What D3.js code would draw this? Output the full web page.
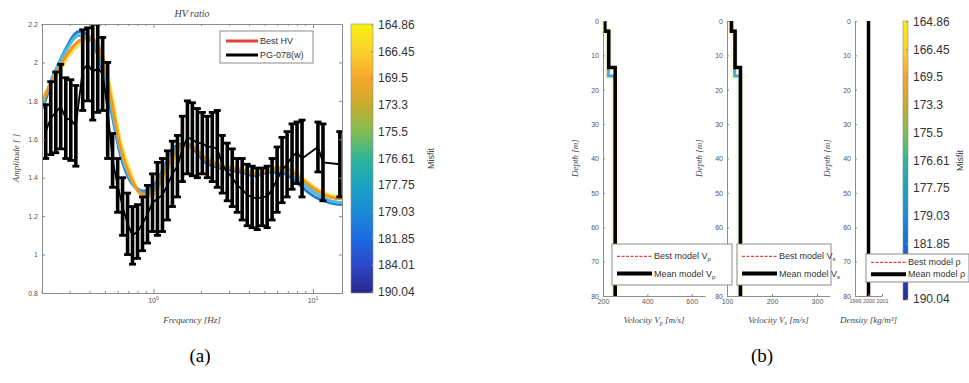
<!DOCTYPE html>
<html>
<head>
<meta charset="utf-8">
<script src="https://cdn.jsdelivr.net/npm/d3@7"></script>
<style>
  body { margin: 0; background: #fff; }
  text { font-family: "Liberation Sans", Arial, sans-serif; }
  text.serif { font-family: "Liberation Serif", "Times New Roman", serif; font-style: italic; }
  text.caption { font-family: "Liberation Serif", "Times New Roman", serif; font-style: normal; }
</style>
</head>
<body>
<svg id="chart" width="969" height="383"></svg>
<script>
// ---- (a) HV ratio data ----
const curveFreq = [0.202, 0.237, 0.282, 0.34, 0.40, 0.466, 0.54, 0.62, 0.72, 0.866, 1.03, 1.19, 1.37, 1.58, 1.83, 2.11, 2.62, 3.5, 4.34, 5.38, 6.67, 8.27, 10.3, 12.8, 15.2];
const hvBest   = [1.80, 1.92, 2.03, 2.11, 2.13, 2.04, 1.81, 1.56, 1.40, 1.31, 1.34, 1.44, 1.53, 1.57, 1.55, 1.50, 1.46, 1.44, 1.42, 1.44, 1.45, 1.40, 1.34, 1.30, 1.29];
const hvYellow = [1.82, 1.91, 2.01, 2.09, 2.12, 2.07, 1.86, 1.60, 1.43, 1.30, 1.32, 1.42, 1.51, 1.56, 1.55, 1.51, 1.47, 1.45, 1.43, 1.45, 1.46, 1.41, 1.35, 1.31, 1.30];
const hvOrange = [1.80, 1.92, 2.03, 2.11, 2.13, 2.05, 1.82, 1.56, 1.40, 1.31, 1.34, 1.44, 1.53, 1.57, 1.55, 1.50, 1.46, 1.44, 1.42, 1.44, 1.45, 1.40, 1.34, 1.30, 1.29];
const hvCyan   = [1.78, 1.94, 2.06, 2.14, 2.12, 2.01, 1.78, 1.54, 1.39, 1.32, 1.36, 1.46, 1.55, 1.58, 1.55, 1.49, 1.46, 1.44, 1.42, 1.44, 1.43, 1.38, 1.32, 1.28, 1.27];
const hvBlue   = [1.76, 1.93, 2.07, 2.16, 2.13, 1.99, 1.76, 1.52, 1.38, 1.33, 1.37, 1.47, 1.56, 1.58, 1.54, 1.48, 1.45, 1.43, 1.41, 1.43, 1.42, 1.36, 1.30, 1.27, 1.26];

// measured curve PG-078(w): frequency, mean, std
const dataFreq = [0.211, 0.227, 0.244, 0.262, 0.282, 0.303, 0.326, 0.360, 0.387, 0.416, 0.447, 0.480, 0.516, 0.554, 0.596, 0.640, 0.688, 0.739, 0.794, 0.853, 0.917, 0.986, 1.059, 1.138, 1.223, 1.314, 1.413, 1.518, 1.632, 1.753, 1.884, 2.024, 2.175, 2.337, 2.512, 2.699, 2.901, 3.117, 3.350, 3.599, 3.868, 4.156, 4.467, 4.799, 5.157, 5.541, 5.957, 6.397, 6.879, 7.391, 7.943, 8.536, 10.74, 11.55, 14.74];
const dataMean = [1.64, 1.71, 1.74, 1.77, 1.71, 1.70, 1.67, 1.96, 1.99, 1.95, 1.97, 1.94, 1.75, 1.49, 1.36, 1.25, 1.16, 1.10, 1.12, 1.16, 1.21, 1.27, 1.29, 1.31, 1.36, 1.42, 1.46, 1.55, 1.61, 1.60, 1.58, 1.58, 1.56, 1.56, 1.55, 1.47, 1.43, 1.40, 1.36, 1.34, 1.31, 1.30, 1.29, 1.30, 1.30, 1.34, 1.39, 1.44, 1.47, 1.51, 1.53, 1.50, 1.56, 1.48, 1.47];
const dataErr  = [0.14, 0.19, 0.21, 0.22, 0.21, 0.21, 0.21, 0.21, 0.19, 0.25, 0.23, 0.19, 0.25, 0.14, 0.14, 0.15, 0.16, 0.15, 0.14, 0.14, 0.15, 0.15, 0.19, 0.19, 0.18, 0.17, 0.16, 0.17, 0.19, 0.19, 0.18, 0.16, 0.16, 0.18, 0.20, 0.15, 0.15, 0.15, 0.14, 0.16, 0.16, 0.16, 0.16, 0.15, 0.16, 0.16, 0.17, 0.17, 0.17, 0.17, 0.16, 0.20, 0.13, 0.20, 0.17];

const ampTicks = [0.8, 1, 1.2, 1.4, 1.6, 1.8, 2, 2.2];
const misfitLabels = ["164.86", "166.45", "169.5", "173.3", "175.5", "176.61", "177.75", "179.03", "181.85", "184.01", "190.04"];

// ---- (b) velocity / density profiles ----
const layerDepth = [0, 3, 13.5, 80];
const vpMean  = [208, 226, 255];
const vpBlue  = [208, 224, 254];
const vsMean  = [110, 118, 130];
const vsBlue  = [109, 117, 129];
const rhoMean = [2000, 2000, 2000];
const blueDepth = [0, 3, 16, 80];
const depthTicks = [0, 10, 20, 30, 40, 50, 60, 70, 80];
const vpTicks = [200, 400, 600];
const vsTicks = [100, 200, 300];
const rhoTicks = [1999, 2000, 2001];

const cmapStops = [
  [0, "#f7f20f"], [0.1, "#fbd22c"], [0.2, "#f7a62c"], [0.3, "#c9ab2c"], [0.4, "#82bd52"],
  [0.5, "#2fb59a"], [0.6, "#18a3c0"], [0.7, "#1b8ad6"], [0.8, "#1c6ae0"], [0.9, "#2c46c6"], [1, "#28288a"]
];

const svg = d3.select("#chart");
const gray = "#8c8c8c", txt = "#555";
const defs = svg.append("defs");

const grad = defs.append("linearGradient").attr("id", "cmap")
  .attr("x1", 0).attr("y1", 0).attr("x2", 0).attr("y2", 1);
cmapStops.forEach(s => grad.append("stop").attr("offset", s[0]).attr("stop-color", s[1]));

// ================= (a) =================
const x = d3.scaleLog().domain([0.2, 15.2]).range([42, 342]);
const y = d3.scaleLinear().domain([0.8, 2.2]).range([293, 24]);

defs.append("clipPath").attr("id", "clipA").append("rect")
  .attr("x", 42).attr("y", 24).attr("width", 300).attr("height", 269);

const gA = svg.append("g");
const plotA = gA.append("g").attr("clip-path", "url(#clipA)");

const hvLine = vals => d3.line().curve(d3.curveMonotoneX)
  .x((d, i) => x(curveFreq[i])).y(d => y(d))(vals);

plotA.append("path").attr("d", hvLine(hvBest)).attr("fill", "none").attr("stroke", "#e8413c").attr("stroke-width", 3);
[[hvYellow, "#f3e35a"], [hvBlue, "#2a78d2"], [hvCyan, "#49bfe0"], [hvOrange, "#f39a1e"]].forEach(c => {
  plotA.append("path").attr("d", hvLine(c[0])).attr("fill", "none")
    .attr("stroke", c[1]).attr("stroke-width", 3);
});

// error bars
const pts = dataFreq.map((f, i) => ({ f, m: dataMean[i], e: dataErr[i] }));
plotA.append("path")
  .attr("d", d3.line().x(d => x(d.f)).y(d => y(d.m))(pts))
  .attr("fill", "none").attr("stroke", "#000").attr("stroke-width", 1.8);
const eb = plotA.append("g").attr("stroke", "#000");
eb.selectAll("line.bar").data(pts).join("line").attr("class", "bar")
  .attr("x1", d => x(d.f)).attr("x2", d => x(d.f))
  .attr("y1", d => y(d.m + d.e)).attr("y2", d => y(d.m - d.e))
  .attr("stroke-width", 3.6);
eb.selectAll("line.capT").data(pts).join("line").attr("class", "capT")
  .attr("x1", d => x(d.f) - 3.5).attr("x2", d => x(d.f) + 3.5)
  .attr("y1", d => y(d.m + d.e)).attr("y2", d => y(d.m + d.e)).attr("stroke-width", 2.8);
eb.selectAll("line.capB").data(pts).join("line").attr("class", "capB")
  .attr("x1", d => x(d.f) - 3.5).attr("x2", d => x(d.f) + 3.5)
  .attr("y1", d => y(d.m - d.e)).attr("y2", d => y(d.m - d.e)).attr("stroke-width", 2.8);

// axes of (a)
const minorX = [0.2, 0.3, 0.4, 0.5, 0.6, 0.7, 0.8, 0.9, 2, 3, 4, 5, 6, 7, 8, 9];
const styleAxis = g => {
  g.selectAll(".domain").attr("stroke", gray);
  g.selectAll(".tick line").attr("stroke", gray);
  g.selectAll(".tick text").attr("fill", txt).attr("font-size", 7);
};
gA.append("g").attr("transform", "translate(42,0)")
  .call(d3.axisLeft(y).tickValues(ampTicks).tickFormat(d3.format("~g")).tickSizeInner(-3).tickSizeOuter(0).tickPadding(4))
  .call(styleAxis);
gA.append("g").attr("transform", "translate(342,0)")
  .call(d3.axisRight(y).tickValues(ampTicks).tickFormat("").tickSizeInner(-3).tickSizeOuter(0))
  .call(styleAxis);
[[293, d3.axisBottom], [24, d3.axisTop]].forEach(([ty, ax], k) => {
  const g = gA.append("g").attr("transform", `translate(0,${ty})`);
  g.call(ax(x).tickValues([1, 10]).tickFormat("").tickSizeInner(-4).tickSizeOuter(0)).call(styleAxis);
  g.selectAll(".minor").data(minorX).join("line").attr("class", "minor")
    .attr("x1", d => x(d)).attr("x2", d => x(d))
    .attr("y1", 0).attr("y2", k === 0 ? -2 : 2).attr("stroke", gray);
});
gA.selectAll(".xlab").data([1, 10]).join("text").attr("class", "xlab")
  .attr("x", d => x(d)).attr("y", 303).attr("text-anchor", "middle")
  .attr("fill", txt).attr("font-size", 7)
  .each(function (d) {
    const t = d3.select(this);
    t.append("tspan").text("10");
    t.append("tspan").attr("dy", -3).attr("font-size", 5).text(Math.log10(d));
  });

gA.append("text").attr("class", "serif").attr("x", 192).attr("y", 17)
  .attr("text-anchor", "middle").attr("font-size", 10).attr("fill", "#444").text("HV ratio");
gA.append("text").attr("class", "serif").attr("x", 192).attr("y", 323)
  .attr("text-anchor", "middle").attr("font-size", 9).attr("fill", "#444").text("Frequency [Hz]");
gA.append("text").attr("class", "serif").attr("transform", "translate(19,158) rotate(-90)")
  .attr("text-anchor", "middle").attr("font-size", 9).attr("fill", "#444").text("Amplitude [ ]");

// legend (a)
const legA = gA.append("g").attr("transform", "translate(220,31)");
legA.append("rect").attr("width", 93).attr("height", 32).attr("fill", "#fff").attr("stroke", gray);
[["Best HV", "#e8413c"], ["PG-078(w)", "#000"]].forEach((d, i) => {
  legA.append("line").attr("x1", 6).attr("x2", 38).attr("y1", 10 + i * 14).attr("y2", 10 + i * 14)
    .attr("stroke", d[1]).attr("stroke-width", 3);
  legA.append("text").attr("x", 40).attr("y", 13 + i * 14).attr("font-size", 9).attr("fill", "#333").text(d[0]);
});

// colorbar helper
function colorbar(x0, w, y0, y1, labelX, misfitX) {
  const g = svg.append("g");
  g.append("rect").attr("x", x0).attr("y", y0).attr("width", w).attr("height", y1 - y0)
    .attr("fill", "url(#cmap)").attr("stroke", gray).attr("stroke-width", 0.6);
  const cy = d3.scalePoint().domain(misfitLabels).range([y0 + 1, y1 - 1]);
  g.selectAll("text.cb").data(misfitLabels).join("text").attr("class", "cb")
    .attr("x", labelX).attr("y", d => cy(d) + 4).attr("font-size", 12).attr("fill", "#333").text(d => d);
  g.selectAll("line.cbt").data(misfitLabels).join("line").attr("class", "cbt")
    .attr("x1", x0 + w - 2).attr("x2", x0 + w).attr("y1", d => cy(d)).attr("y2", d => cy(d)).attr("stroke", gray);
  g.append("text").attr("transform", `translate(${misfitX},${(y0 + y1) / 2}) rotate(-90)`)
    .attr("text-anchor", "middle").attr("font-size", 9).attr("fill", "#444").text("Misfit");
  return g;
}
colorbar(351, 22, 24, 293, 378, 434);

// ================= (b) =================
const yD = d3.scaleLinear().domain([0, 80]).range([21, 296]);

function stepPoints(depths, vals) {
  const p = [];
  vals.forEach((v, i) => { p.push([v, depths[i]]); p.push([v, depths[i + 1]]); });
  return p;
}

function panel(opt) {
  const xs = d3.scaleLinear().domain(opt.domain).range([opt.x0, opt.x1]);
  const g = svg.append("g");
  const line = d3.line().x(d => xs(d[0])).y(d => yD(d[1]));
  if (opt.blue) {
    g.append("path").attr("d", line(stepPoints(blueDepth, opt.blue))).attr("fill", "none")
      .attr("stroke", "#fff2a8").attr("stroke-width", 7).attr("opacity", 0.6);
    g.append("path").attr("d", line(stepPoints(blueDepth, opt.blue))).attr("fill", "none")
      .attr("stroke", "#4aa8dc").attr("stroke-width", 3);
  }
  g.append("path").attr("d", line(stepPoints(layerDepth, opt.mean))).attr("fill", "none")
    .attr("stroke", "#000").attr("stroke-width", 3.5);

  g.append("g").attr("transform", `translate(${opt.x0},0)`)
    .call(d3.axisLeft(yD).tickValues(depthTicks).tickSizeInner(-2).tickSizeOuter(0).tickPadding(4))
    .call(styleAxis);
  const ax = g.append("g").attr("transform", "translate(0,296)")
    .call(d3.axisBottom(xs).tickValues(opt.ticks).tickFormat(d3.format("d")).tickSizeInner(-2).tickSizeOuter(0).tickPadding(3))
    .call(styleAxis);
  if (opt.tickFont) ax.selectAll(".tick text").attr("font-size", opt.tickFont);

  g.append("text").attr("class", "serif").attr("transform", `translate(${opt.x0 - 25},158) rotate(-90)`)
    .attr("text-anchor", "middle").attr("font-size", 9).attr("fill", "#444").text("Depth [m]");
  const xl = g.append("text").attr("class", "serif").attr("x", (opt.x0 + opt.x1) / 2).attr("y", 323)
    .attr("text-anchor", "middle").attr("font-size", 9).attr("fill", "#444");
  xl.append("tspan").text(opt.xlabel[0]);
  if (opt.xlabel[1]) xl.append("tspan").attr("dy", 2).attr("font-size", 6).text(opt.xlabel[1]);
  xl.append("tspan").attr("dy", opt.xlabel[1] ? -2 : 0).text(" " + opt.xlabel[2]);
  return g;
}

panel({ x0: 603, x1: 705, domain: [200, 660], ticks: vpTicks, mean: vpMean, blue: vpBlue, xlabel: ["Velocity V", "p", "[m/s]"] });
panel({ x0: 727, x1: 830, domain: [100, 329], ticks: vsTicks, mean: vsMean, blue: vsBlue, xlabel: ["Velocity V", "s", "[m/s]"] });
panel({ x0: 855, x1: 882, domain: [1999, 2001], ticks: rhoTicks, mean: rhoMean, tickFont: 5.5, xlabel: ["Density", "", "[kg/m³]"] });

colorbar(903, 5, 21, 300, 913, 963);

// legends (b)
function legendB(x0, y0, w, h, labels, sub) {
  const g = svg.append("g").attr("transform", `translate(${x0},${y0})`);
  g.append("rect").attr("width", w).attr("height", h).attr("fill", "#fff").attr("stroke", gray);
  [["#e8413c", 1.2, "3,1.5"], ["#000", 4, null]].forEach((s, i) => {
    const ly = h * (i === 0 ? 0.3 : 0.72);
    g.append("line").attr("x1", 5).attr("x2", 40).attr("y1", ly).attr("y2", ly)
      .attr("stroke", s[0]).attr("stroke-width", s[1]).attr("stroke-dasharray", s[2]);
    const t = g.append("text").attr("x", 42).attr("y", ly + 3).attr("font-size", 9).attr("fill", "#333");
    t.append("tspan").text(labels[i]);
    t.append("tspan").attr("dy", 2).attr("font-size", 6).text(sub);
  });
}
legendB(612, 244, 120, 41, ["Best model V", "Mean model V"], "p");
legendB(737, 244, 94, 41, ["Best model V", "Mean model V"], "s");
legendB(866, 254, 103, 28, ["Best model ρ", "Mean model ρ"], "");

// panel captions
svg.append("text").attr("class", "caption").attr("x", 200).attr("y", 362).attr("text-anchor", "middle")
  .attr("font-size", 19).attr("fill", "#000").text("(a)");
svg.append("text").attr("class", "caption").attr("x", 762).attr("y", 362).attr("text-anchor", "middle")
  .attr("font-size", 19).attr("fill", "#000").text("(b)");
</script>
</body>
</html>
